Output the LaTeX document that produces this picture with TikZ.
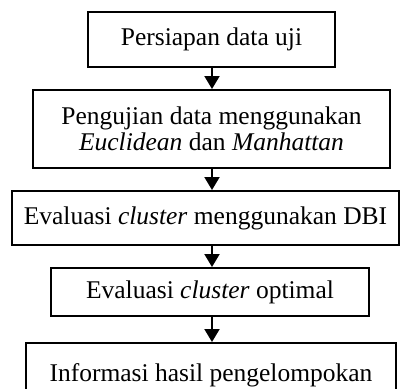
\documentclass[tikz,border=0pt]{standalone}
\usepackage{fontspec}
\setmainfont{Liberation Serif}
\usetikzlibrary{arrows.meta}
\begin{document}
\begin{tikzpicture}[x=1pt,y=-1pt,
  box/.style={draw,line width=2pt,inner sep=0pt,align=center,
    font=\fontsize{25.5pt}{26.5pt}\selectfont},
  arr/.style={line width=2pt,-{Triangle[width=15pt,length=13pt]}}]
\useasboundingbox (0,0) rectangle (401,388);
\clip (0,0) rectangle (401,388);
\node[box,minimum width=247pt,minimum height=55pt] (b1) at (211.5,39.5) {Persiapan data uji};
\node[box,minimum width=357pt,minimum height=78pt] (b2) at (211.5,129) {Pengujian data menggunakan\\\textit{Euclidean} dan \textit{Manhattan}};
\node[box,minimum width=387pt,minimum height=54pt] (b3) at (205.5,218) {Evaluasi \textit{cluster} menggunakan DBI};
\node[box,minimum width=318pt,minimum height=48pt] (b4) at (210,292) {Evaluasi \textit{cluster} optimal};
\node[box,minimum width=370pt,minimum height=64pt] (b5) at (211,375) {Informasi hasil pengelompokan};
\coordinate (ax) at (212,0);
\draw[arr] (ax |- b1.south) -- (ax |- b2.north);
\draw[arr] (ax |- b2.south) -- (ax |- b3.north);
\draw[arr] (ax |- b3.south) -- (ax |- b4.north);
\draw[arr] (ax |- b4.south) -- (ax |- b5.north);
\end{tikzpicture}
\end{document}
